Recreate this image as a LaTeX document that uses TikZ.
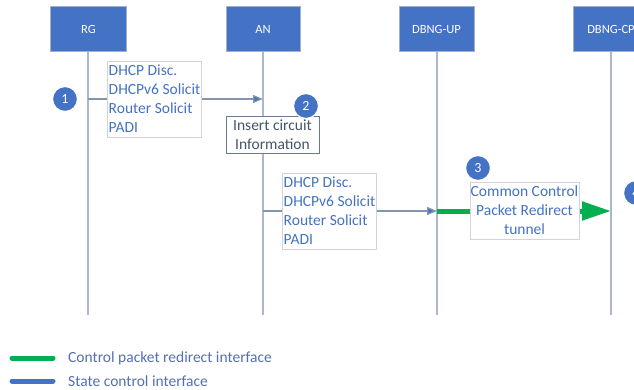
\documentclass[tikz,border=0pt]{standalone}
\usepackage{fontspec}
\setmainfont{Carlito}
\usetikzlibrary{arrows.meta}
\definecolor{hdr}{HTML}{4472C4}
\definecolor{hdrline}{HTML}{A3B0C8}
\definecolor{life}{HTML}{AAB7CE}
\definecolor{msgline}{HTML}{8194B0}
\definecolor{msgtext}{HTML}{4472C4}
\definecolor{slate}{HTML}{44546A}
\definecolor{slateline}{HTML}{6A7A94}
\definecolor{boxline}{HTML}{D0D4DA}
\definecolor{grn}{HTML}{00B050}
\definecolor{legtext}{HTML}{5470B0}
\tikzset{
  x=1pt, y=-1pt,
  hdrbox/.style={draw=hdrline, line width=1pt, fill=hdr, text=white, minimum height=45pt, inner sep=0pt, font=\fontsize{12.5}{14}\selectfont},
  lifeline/.style={draw=life, line width=1.5pt},
  msgarrow/.style={draw=msgline, line width=1.3pt, -{Triangle[length=10pt,width=8pt,fill=hdr]}},
  msgbox/.style={draw=boxline, line width=0.8pt, fill=white, text=msgtext, align=left, inner xsep=1pt, inner ysep=0pt, font=\fontsize{15.5}{19}\selectfont},
  stepnum/.style={circle, fill=hdr, draw=white, line width=1.2pt, minimum size=25pt, inner sep=0pt, text=white, font=\fontsize{14}{16}\selectfont},
  grnline/.style={draw=grn, line width=5pt},
  legline/.style={line width=5pt, line cap=round},
  legtxt/.style={anchor=west, text=legtext, inner sep=0pt, font=\fontsize{15.5}{19}\selectfont}
}
\begin{document}
\begin{tikzpicture}
\clip (0,0) rectangle (634,390);
\fill[white] (0,0) rectangle (634,390);
% headers
\node[hdrbox, minimum width=76pt] (rg) at (88.5,29.5) {RG};
\node[hdrbox, minimum width=74pt] (an) at (263,29.5) {AN};
\node[hdrbox, minimum width=75pt] (up) at (436.5,29.5) {DBNG-UP};
\node[hdrbox, minimum width=76pt] (cp) at (611,29.5) {DBNG-CP};
% lifeline ends
\coordinate (rgend) at (88,315);
\coordinate (anend) at (263,315);
\coordinate (upend) at (437,315);
\coordinate (cpend) at (611,315);
\draw[lifeline] (rg.south -| rgend) -- (rgend);
\draw[lifeline] (an.south -| anend) -- (anend);
\draw[lifeline] (up.south -| upend) -- (upend);
\draw[lifeline] (cp.south -| cpend) -- (cpend);
% message 1
\coordinate (m1s) at (88,99);
\coordinate (m1e) at (263,99);
\draw[msgarrow] (m1s) -- (m1e);
\node[msgbox, minimum width=93pt, minimum height=76pt] (b1) at (154.5,99) {DHCP Disc.\\DHCPv6 Solicit\\Router Solicit\\PADI};
\node[stepnum] (c1) at (65,99) {1};
% step 2
\node[draw=slateline, line width=0.9pt, fill=white, text=slate, align=center, inner sep=0pt, minimum width=93pt, minimum height=37pt, font=\fontsize{15.5}{19}\selectfont] (b2) at (272.5,134.5) {Insert circuit\\Information};
\node[stepnum] (c2) at (306,106) {2};
% message 2
\coordinate (m2s) at (263,211);
\coordinate (m2e) at (437,211);
\draw[msgarrow] (m2s) -- (m2e);
\node[msgbox, minimum width=93pt, minimum height=76pt] (b4) at (329.5,211) {DHCP Disc.\\DHCPv6 Solicit\\Router Solicit\\PADI};
% green redirect
\coordinate (g2) at (611,211);
\draw[grnline, -{Triangle[length=29pt,width=18pt]}] (m2e) -- (g2);
\node[draw=boxline, line width=0.8pt, fill=white, text=msgtext, align=center, inner sep=0pt, minimum width=109pt, minimum height=57pt, font=\fontsize{15.5}{19}\selectfont] (b3) at (524.5,210.5) {Common Control\\Packet Redirect\\tunnel};
\node[stepnum] (c3) at (478,168) {3};
\node[stepnum] (c4) at (636,193) {4};
% legend
\coordinate (l1a) at (12,358);
\coordinate (l1b) at (53,358);
\coordinate (l2a) at (12,381);
\coordinate (l2b) at (53,381);
\draw[legline, draw=grn] (l1a) -- (l1b);
\draw[legline, draw=hdr] (l2a) -- (l2b);
\node[legtxt] (t1) at (68,358) {Control packet redirect interface};
\node[legtxt] (t2) at (68,381) {State control interface};
\end{tikzpicture}
\end{document}
